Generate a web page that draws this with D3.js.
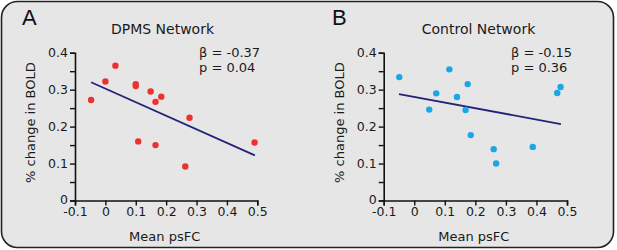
<!DOCTYPE html>
<html>
<head>
<meta charset="utf-8">
<script src="https://cdn.jsdelivr.net/npm/d3@7"></script>
<style>
  body { margin: 0; background: #fff; }
  svg { display: block; font-family: "DejaVu Sans", Verdana, sans-serif; }
</style>
</head>
<body>
<div id="chart"></div>
<script>
// Panel A: DPMS Network
const dpmsX = [-0.047, 0.0, 0.033, 0.10, 0.10, 0.149, 0.184, 0.165, 0.277, 0.108, 0.165, 0.263, 0.491];
const dpmsY = [0.272, 0.322, 0.365, 0.315, 0.310, 0.295, 0.281, 0.267, 0.224, 0.160, 0.150, 0.092, 0.157];
const dpmsFit = [[-0.047, 0.320], [0.492, 0.122]];

// Panel B: Control Network
const ctrlX = [-0.049, 0.115, 0.175, 0.072, 0.140, 0.049, 0.168, 0.185, 0.260, 0.268, 0.388, 0.468, 0.479];
const ctrlY = [0.334, 0.355, 0.315, 0.290, 0.280, 0.246, 0.245, 0.177, 0.139, 0.100, 0.145, 0.291, 0.307];
const ctrlFit = [[-0.050, 0.288], [0.480, 0.207]];

const xTicks = [-0.1, 0, 0.1, 0.2, 0.3, 0.4, 0.5];
const xTickLabels = ["-0.1", "0", "0.1", "0.2", "0.3", "0.4", "0.5"];
const yTicks = [0, 0.1, 0.2, 0.3, 0.4];
const yTickLabels = ["0", "0.1", "0.2", "0.3", "0.4"];
const yMinorTicks = [0.05, 0.15, 0.25, 0.35];

const width = 617, height = 250;

const svg = d3.select("#chart").append("svg")
    .attr("width", width)
    .attr("height", height);

// rounded frame around both panels
svg.append("rect")
    .attr("x", 1.5).attr("y", 1.5)
    .attr("width", 612).attr("height", 246)
    .attr("rx", 16).attr("ry", 16)
    .attr("fill", "#e6e6e6")
    .attr("stroke", "#222")
    .attr("stroke-width", 1.6);

const panels = [
    { letter: "A", title: "DPMS Network", xs: dpmsX, ys: dpmsY, fit: dpmsFit,
      beta: "β = -0.37", p: "p = 0.04", color: "#ee3030", left: 75, right: 257.3,
      letterX: 22, titleX: 162.5, statX: 199 },
    { letter: "B", title: "Control Network", xs: ctrlX, ys: ctrlY, fit: ctrlFit,
      beta: "β = -0.15", p: "p = 0.36", color: "#1aa7e6", left: 383.7, right: 567,
      letterX: 332, titleX: 478.5, statX: 511 }
];

const plotTop = 52.7, plotBottom = 200.5;

panels.forEach(pn => {
    const g = svg.append("g");

    const x = d3.scaleLinear().domain([-0.1, 0.5]).range([pn.left, pn.right]);
    const y = d3.scaleLinear().domain([0, 0.4]).range([plotBottom, plotTop]);

    // y axis, major + minor ticks
    const yAxis = g.append("g")
        .attr("transform", `translate(${pn.left},0)`)
        .call(d3.axisLeft(y).tickValues(yTicks).tickFormat((d, i) => yTickLabels[i]).tickSize(5).tickPadding(2));
    // lift the "0" label a little so it clears the x labels
    yAxis.selectAll(".tick text").filter(d => d === 0).attr("dy", "0.2em");
    g.append("g")
        .attr("transform", `translate(${pn.left},0)`)
        .call(d3.axisLeft(y).tickValues(yMinorTicks).tickFormat("").tickSize(5))
        .call(a => a.select(".domain").remove());

    // x axis
    g.append("g")
        .attr("transform", `translate(0,${plotBottom})`)
        .call(d3.axisBottom(x).tickValues(xTicks).tickFormat((d, i) => xTickLabels[i]).tickSize(5).tickPadding(2));

    g.selectAll(".domain").attr("stroke", "#111").attr("stroke-width", 1.6);
    g.selectAll(".tick line").attr("stroke", "#111").attr("stroke-width", 1.4);
    g.selectAll(".tick text").attr("fill", "#1a1a1a").style("font-size", "12.5px")
        .style("font-family", "'DejaVu Sans', Verdana, sans-serif");

    // titles and labels
    g.append("text")
        .attr("x", pn.titleX).attr("y", 33.5)
        .attr("text-anchor", "middle")
        .attr("fill", "#1a1a1a")
        .style("font-size", "14px")
        .text(pn.title);

    g.append("text")
        .attr("x", pn.letterX).attr("y", 25)
        .attr("fill", "#111")
        .style("font-family", "'Liberation Sans', Arial, sans-serif")
        .style("font-size", "22px")
        .text(pn.letter);

    g.append("text")
        .attr("transform", `translate(${pn.left - 40},${(plotTop + plotBottom) / 2 - 4}) rotate(-90)`)
        .attr("text-anchor", "middle")
        .attr("fill", "#1a1a1a")
        .style("font-size", "13px")
        .text("% change in BOLD");

    g.append("text")
        .attr("x", (pn.left + pn.right) / 2 - 1.5).attr("y", 241)
        .attr("text-anchor", "middle")
        .attr("fill", "#1a1a1a")
        .style("font-size", "13px")
        .text("Mean psFC");

    g.append("text")
        .attr("x", pn.statX).attr("y", 57)
        .attr("fill", "#1a1a1a")
        .style("font-size", "13px")
        .text(pn.beta);
    g.append("text")
        .attr("x", pn.statX).attr("y", 72)
        .attr("fill", "#1a1a1a")
        .style("font-size", "13px")
        .text(pn.p);

    // regression line
    g.append("line")
        .attr("x1", x(pn.fit[0][0])).attr("y1", y(pn.fit[0][1]))
        .attr("x2", x(pn.fit[1][0])).attr("y2", y(pn.fit[1][1]))
        .attr("stroke", "#23237a")
        .attr("stroke-width", 1.8);

    // points
    g.selectAll("circle")
        .data(pn.xs.map((v, i) => [v, pn.ys[i]]))
        .enter()
        .append("circle")
        .attr("cx", d => x(d[0]))
        .attr("cy", d => y(d[1]))
        .attr("r", 3.2)
        .attr("fill", pn.color);
});
</script>
</body>
</html>
